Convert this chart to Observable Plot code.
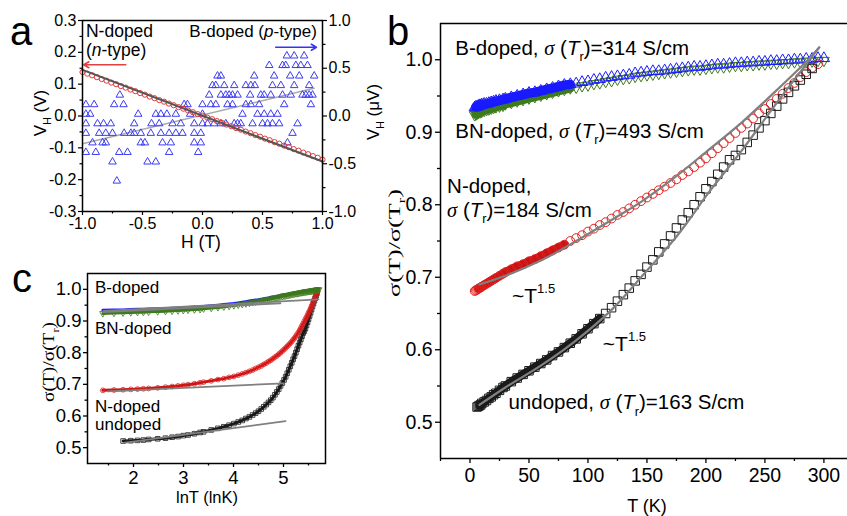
<!DOCTYPE html>
<html><head><meta charset="utf-8">
<script src="https://cdn.jsdelivr.net/npm/d3@7"></script>
<script src="https://cdn.jsdelivr.net/npm/@observablehq/plot@0.6"></script>
<style>
body{margin:0;background:#fff;}
#fig{position:relative;width:847px;height:516px;overflow:hidden;background:#fff;}
#fig svg{position:absolute;}
</style></head><body><div id="fig"></div>
<script>
// ---------- Panel a data ----------
const UV_TO_V = 0.3; // right axis (μV) mapped onto left axis (V): 1 μV <-> 0.3 V
const aRedH = [-1.00,-0.96,-0.92,-0.88,-0.84,-0.80,-0.76,-0.72,-0.68,-0.64,-0.60,-0.56,-0.52,-0.48,-0.44,-0.40,-0.36,-0.32,-0.28,-0.24,-0.20,-0.16,-0.12,-0.08,-0.04,0.00,0.04,0.08,0.12,0.16,0.20,0.24,0.28,0.32,0.36,0.40,0.44,0.48,0.52,0.56,0.60,0.64,0.68,0.72,0.76,0.80,0.84,0.88,0.92,0.96,1.00];
const aRedV = [0.138,0.133,0.128,0.122,0.116,0.111,0.105,0.100,0.094,0.089,0.083,0.078,0.072,0.067,0.061,0.056,0.050,0.045,0.039,0.034,0.028,0.023,0.017,0.012,0.006,0.001,-0.005,-0.010,-0.016,-0.021,-0.027,-0.032,-0.038,-0.043,-0.049,-0.054,-0.060,-0.065,-0.071,-0.076,-0.082,-0.087,-0.093,-0.098,-0.104,-0.109,-0.115,-0.120,-0.126,-0.131,-0.137];
const aBlueLevelsUV = [0.63,0.53,0.42,0.32,0.22,0.12,0.02,-0.08,-0.18,-0.28,-0.38,-0.48,-0.68];
const aBlueHAtLevel = [
  [0.703,0.764,0.847],
  [0.556,0.667,0.694,0.778,0.819,0.875],
  [0.125,0.153,0.431,0.597,0.731,0.806,0.931],
  [0.083,0.111,0.181,0.264,0.361,0.403,0.436,0.583,0.653,0.764,0.889],
  [-0.689,0.056,0.153,0.194,0.222,0.250,0.292,0.397,0.486,0.514,0.569,0.667,0.736,0.833,0.861,0.889,0.917],
  [-0.972,-0.903,-0.736,-0.658,-0.153,-0.125,0.000,0.069,0.111,0.208,0.250,0.361,0.403,0.472,0.681,0.903],
  [-0.972,-0.936,-0.536,-0.389,-0.347,-0.297,-0.222,-0.103,0.000,0.333,0.458,0.514,0.569,0.625],
  [-0.972,-0.875,-0.825,-0.764,-0.569,-0.425,-0.361,-0.250,-0.181,-0.069,0.000,0.042,0.097,0.153,0.194,0.264,0.292,0.319,0.417,0.500,0.542,0.583,0.639,0.792],
  [-0.972,-0.861,-0.806,-0.750,-0.653,-0.597,-0.569,-0.514,-0.431,-0.347,-0.278,-0.222,-0.167,-0.069,-0.014,0.750],
  [-0.917,-0.833,-0.806,-0.514,-0.480,-0.333,-0.264,-0.069,-0.014,0.708],
  [-0.972,-0.889,-0.694,-0.625,-0.278,-0.036],
  [-0.750,-0.458,-0.389],
  [-0.714]
];
const aRedFitH = [-1, 1], aRedFitV = [0.145, -0.143];
const aBlueFitH = [-1, 0.93], aBlueFitUV = [-0.29, 0.29];
const aLeftTicks = [-0.3,-0.2,-0.1,0,0.1,0.2,0.3];
const aLeftMinor = [-0.25,-0.15,-0.05,0.05,0.15,0.25];
const aRightTicksUV = [-1,-0.5,0,0.5,1];
const aRightMinorUV = [-0.75,-0.25,0.25,0.75];
const aXTicks = [-1,-0.5,0,0.5,1];
const aXMinor = [-0.75,-0.25,0.25,0.75];

// ---------- Panels b and c data ----------
const T = [4,5,6,7,8,9,10,12,14,16,18,20,22,25,28,30,
  35,40,45,50,55,60,65,70,75,80,85,90,95,100,
  105,110,115,120,125,130,135,140,145,150,
  155,160,165,170,175,180,185,190,195,200,
  205,210,215,220,225,230,235,240,245,250,
  255,260,265,270,275,280,285,290,295,300];
const sigB = [0.934,0.935,0.935,0.936,0.937,0.937,0.938,0.939,0.939,0.940,0.941,0.942,0.943,0.944,0.945,0.946,
  0.948,0.950,0.952,0.954,0.955,0.957,0.959,0.961,0.963,0.965,0.966,0.967,0.969,0.970,
  0.972,0.973,0.975,0.976,0.977,0.978,0.979,0.981,0.982,0.983,
  0.984,0.984,0.985,0.986,0.987,0.988,0.989,0.990,0.990,0.991,
  0.992,0.993,0.993,0.994,0.995,0.995,0.996,0.996,0.997,0.997,
  0.998,0.998,0.999,0.999,1.000,1.000,1.001,1.001,1.002,1.002];
const sigBN = [0.924,0.925,0.926,0.927,0.928,0.928,0.929,0.930,0.931,0.932,0.933,0.934,0.935,0.936,0.937,0.939,
  0.941,0.943,0.945,0.947,0.949,0.951,0.953,0.955,0.957,0.959,0.961,0.962,0.964,0.965,
  0.967,0.968,0.970,0.971,0.973,0.974,0.975,0.977,0.978,0.979,
  0.980,0.981,0.982,0.983,0.984,0.985,0.986,0.987,0.987,0.988,
  0.989,0.990,0.990,0.991,0.992,0.992,0.993,0.993,0.994,0.994,
  0.995,0.995,0.996,0.996,0.997,0.997,0.998,0.998,0.999,0.999];
const sigN = [0.681,0.682,0.683,0.684,0.685,0.686,0.687,0.689,0.691,0.693,0.695,0.697,0.699,0.702,0.705,0.707,
  0.711,0.715,0.718,0.722,0.725,0.729,0.733,0.737,0.741,0.745,0.750,0.754,0.758,0.763,
  0.767,0.772,0.776,0.781,0.786,0.790,0.795,0.800,0.805,0.810,
  0.815,0.820,0.825,0.830,0.835,0.841,0.846,0.852,0.858,0.864,
  0.871,0.878,0.885,0.892,0.899,0.906,0.912,0.919,0.926,0.932,
  0.939,0.946,0.953,0.961,0.968,0.976,0.983,0.989,0.994,null];
const sigU = [null,null,0.521,0.522,0.523,0.524,0.526,0.528,0.530,0.533,0.535,0.538,0.540,0.544,0.548,0.550,
  0.556,0.561,0.566,0.571,0.576,0.581,0.586,0.592,0.597,0.603,0.609,0.615,0.622,0.629,
  0.636,0.643,0.650,0.658,0.667,0.676,0.685,0.695,0.704,0.714,
  0.724,0.735,0.746,0.757,0.768,0.779,0.789,0.800,0.811,0.822,
  0.832,0.842,0.852,0.862,0.868,0.876,0.886,0.896,0.906,0.916,
  0.926,0.936,0.946,0.955,0.964,0.972,0.980,0.988,null,null];
// ~T^1.5 fits (panel b)
const fitNT = [8,30,60,90,120,145,173,201,230,258,286,296];
const fitN  = [0.690,0.702,0.723,0.750,0.779,0.804,0.837,0.874,0.913,0.955,0.999,1.017];
const fitUT = [8,30,60,90,120,145,173,187,201,230,258,286,296];
const fitU  = [0.524,0.548,0.578,0.613,0.655,0.700,0.752,0.782,0.814,0.874,0.936,0.996,1.017];
// linear low-T fits (panel c), x = lnT
const cFitBx = [1.40,5.70], cFitBy = [0.932,0.968];
const cFitBNx = [1.40,4.94], cFitBNy = [0.928,0.956];
const cFitNx = [1.48,5.00], cFitNy = [0.678,0.703];
const cFitUx = [1.84,5.04], cFitUy = [0.516,0.584];
const bYTicks = [0.5,0.6,0.7,0.8,0.9,1.0], bYMinor = [0.55,0.65,0.75,0.85,0.95];
const bXTicks = [0,50,100,150,200,250,300], bXMinor = [-25,25,75,125,175,225,275];
const cXTicks = [2,3,4,5], cXMinor = [1.5,2.5,3.5,4.5,5.5];

// ---------- helpers ----------
const SANS = "'Liberation Sans', Arial, Helvetica, sans-serif";
const SERIF = "'Liberation Serif', 'Times New Roman', serif";
const f1 = v => (Math.abs(v) < 1e-9 ? 0 : v).toFixed(1);
const blank = () => "";
const rows = (xs, ys, fx = x => x) => xs.map((x, i) => ({x: fx(x), y: ys[i]})).filter(d => d.y != null);
const sq3 = Math.sqrt(3);
const triDown = {draw(ctx, size) {
  const y = Math.sqrt(size / (sq3 * 3));
  ctx.moveTo(0, 2 * y); ctx.lineTo(sq3 * y, -y); ctx.lineTo(-sq3 * y, -y); ctx.closePath();
}};
const fig = document.getElementById("fig");
function place(svg, left, top) { svg.style.left = left + "px"; svg.style.top = top + "px"; fig.appendChild(svg); }
function addText(plot, x, y, parts, o = {}) {
  const sx = o.px ? x : plot.scale("x").apply(x);
  const sy = o.px ? y : plot.scale("y").apply(y);
  const size = o.size || 16;
  const t = d3.select(plot).append("text")
    .attr("x", sx).attr("y", sy).attr("font-size", size)
    .attr("text-anchor", o.anchor || "start")
    .attr("font-family", o.family || SANS).attr("fill", "#000");
  if (o.rotate) t.attr("transform", `rotate(${o.rotate},${sx},${sy})`);
  if (o.textLength) t.attr("textLength", o.textLength).attr("lengthAdjust", "spacingAndGlyphs");
  let shift = 0;
  for (const p of parts) {
    const s = t.append("tspan").text(p.t);
    const target = p.sub ? size * 0.3 : p.sup ? -size * 0.45 : 0;
    if (target !== shift) { s.attr("dy", target - shift); shift = target; }
    if (p.sub || p.sup) s.attr("font-size", size * 0.62);
    if (p.i) s.attr("font-style", "italic");
    if (p.serif) s.attr("font-family", SERIF);
  }
  return t;
}
const baseStyle = {fontFamily: SANS, background: "transparent", overflow: "visible", color: "#000"};

// ---------- Panel a ----------
const aRed = rows(aRedH, aRedV);
const aBlue = aBlueLevelsUV.flatMap((lv, k) => aBlueHAtLevel[k].map(h => ({x: h, y: lv * UV_TO_V})));
const pa = Plot.plot({
  width: 400, height: 250, marginLeft: 82, marginRight: 78, marginTop: 20, marginBottom: 39,
  x: {domain: [-1, 1], label: null}, y: {domain: [-0.3, 0.3], label: null},
  style: baseStyle,
  marks: [
    Plot.axisY({ticks: aLeftTicks, tickFormat: f1, tickSize: 4, tickPadding: 2, fontSize: 16, label: null, strokeWidth: 1.2}),
    Plot.axisY({ticks: aLeftMinor, tickFormat: blank, tickSize: 2.5, label: null, strokeWidth: 1.2}),
    Plot.axisY({ticks: aRightTicksUV.map(v => v * UV_TO_V), anchor: "right", tickFormat: v => f1(v / UV_TO_V), tickSize: 4, tickPadding: 2, fontSize: 16, label: null, strokeWidth: 1.2}),
    Plot.axisY({ticks: aRightMinorUV.map(v => v * UV_TO_V), anchor: "right", tickFormat: blank, tickSize: 2.5, label: null, strokeWidth: 1.2}),
    Plot.axisX({ticks: aXTicks, tickFormat: f1, tickSize: 4, tickPadding: 2, fontSize: 16, label: null, strokeWidth: 1.2}),
    Plot.axisX({ticks: aXMinor, tickFormat: blank, tickSize: 2.5, label: null, strokeWidth: 1.2}),
    Plot.line(rows(aBlueFitH, aBlueFitUV.map(v => v * UV_TO_V)), {x: "x", y: "y", stroke: "#aaaaaa", strokeWidth: 1.5}),
    Plot.dot(aBlue, {x: "x", y: "y", symbol: "triangle", r: 2.8, stroke: "#3c3cf5", fill: "none", strokeWidth: 1}),
    Plot.dot(aRed, {x: "x", y: "y", r: 2.6, stroke: "#e23a3a", fill: "none", strokeWidth: 1}),
    Plot.line(rows(aRedFitH, aRedFitV), {x: "x", y: "y", stroke: "#555555", strokeWidth: 2}),
    Plot.arrow([{x1: -0.64, y1: 0.161, x2: -0.99, y2: 0.161}], {x1: "x1", y1: "y1", x2: "x2", y2: "y2", stroke: "#e04040", strokeWidth: 1.5, headLength: 6}),
    Plot.arrow([{x1: 0.61, y1: 0.216, x2: 0.95, y2: 0.216}], {x1: "x1", y1: "y1", x2: "x2", y2: "y2", stroke: "#3333ff", strokeWidth: 1.5, headLength: 6}),
    Plot.frame({stroke: "#000", strokeWidth: 1.5})
  ]
});
place(pa, 0, 0);
addText(pa, -0.967, 0.247, [{t: "N-doped"}], {size: 17.5});
addText(pa, -0.967, 0.187, [{t: "("}, {t: "n", i: true}, {t: "-type)"}], {size: 17.5});
addText(pa, 0.958, 0.247, [{t: "B-doped ("}, {t: "p", i: true}, {t: "-type)"}], {size: 17, anchor: "end"});
addText(pa, 46, 113, [{t: "V"}, {t: "H", sub: true}, {t: " (V)"}], {px: true, size: 17, anchor: "middle", rotate: -90});
addText(pa, 379, 112, [{t: "V"}, {t: "H", sub: true}, {t: " (μV)"}], {px: true, size: 17, anchor: "middle", rotate: -90});
addText(pa, 201, 248, [{t: "H (T)"}], {px: true, size: 17.5, anchor: "middle"});

// ---------- Panel b ----------
const dB = rows(T, sigB), dBN = rows(T, sigBN), dN = rows(T, sigN), dU = rows(T, sigU);
const cBlue = "#1a1aff", cGreen = "#3d7a1c", cRed = "#e0201e", cRedBand = "#c81414", cBlack = "#1a1a1a", cGray = "#808080";
const pb = Plot.plot({
  width: 467, height: 516, marginLeft: 60, marginRight: 0, marginTop: 23, marginBottom: 58,
  x: {domain: [-25, 320], label: null}, y: {domain: [0.45, 1.05], label: null},
  style: baseStyle,
  marks: [
    Plot.axisY({ticks: bYTicks, tickFormat: f1, tickSize: 5, tickPadding: 3, fontSize: 19.5, label: null, strokeWidth: 1.3}),
    Plot.axisY({ticks: bYMinor, tickFormat: blank, tickSize: 3, label: null, strokeWidth: 1.3}),
    Plot.axisX({ticks: bXTicks, tickFormat: d => String(d), tickSize: 5, tickPadding: 5, fontSize: 19.5, label: null, strokeWidth: 1.3}),
    Plot.axisX({ticks: bXMinor, tickFormat: blank, tickSize: 3, label: null, strokeWidth: 1.3}),
    Plot.line(dBN.filter(d => d.x >= 5 && d.x <= 85), {x: "x", y: "y", stroke: cGreen, strokeWidth: 9}),
    Plot.dot(dBN, {x: "x", y: "y", symbol: triDown, r: 4, stroke: cGreen, fill: "none", strokeWidth: 1}),
    Plot.line(dB.filter(d => d.x >= 5 && d.x <= 85), {x: "x", y: "y", stroke: cBlue, strokeWidth: 9.5}),
    Plot.dot(dB, {x: "x", y: "y", symbol: "triangle", r: 4.2, stroke: cBlue, fill: "none", strokeWidth: 1}),
    Plot.line(dN.filter(d => d.x >= 7 && d.x <= 80), {x: "x", y: "y", stroke: cRedBand, strokeWidth: 8.5}),
    Plot.dot(dN, {x: "x", y: "y", symbol: "circle", r: 4.4, stroke: cRed, fill: "none", strokeWidth: 1}),
    Plot.line(dU.filter(d => d.x >= 8 && d.x <= 110), {x: "x", y: "y", stroke: cBlack, strokeWidth: 8.5}),
    Plot.dot(dU, {x: "x", y: "y", symbol: "square", r: 4.8, stroke: cBlack, fill: "none", strokeWidth: 1}),
    Plot.line(rows(fitNT, fitN), {x: "x", y: "y", stroke: cGray, strokeWidth: 2.2, curve: "catmull-rom"}),
    Plot.line(rows(fitUT, fitU), {x: "x", y: "y", stroke: cGray, strokeWidth: 2.2, curve: "catmull-rom"}),
    Plot.ruleX([-25], {stroke: "#000", strokeWidth: 1.5}),
    Plot.ruleY([0.45, 1.05], {stroke: "#000", strokeWidth: 1.5})
  ]
});
place(pb, 380, 0);
const sig = (val) => [{t: "σ", i: true, serif: true}, {t: " ("}, {t: "T", i: true}, {t: "r", sub: true}, {t: ")=" + val + " S/cm"}];
addText(pb, -12, 1.006, [{t: "B-doped, "}, ...sig(314)], {size: 20.5});
addText(pb, -12, 0.892, [{t: "BN-doped, "}, ...sig(493)], {size: 20.5});
addText(pb, -19, 0.815, [{t: "N-doped,"}], {size: 20.5});
addText(pb, -19, 0.782, sig(184), {size: 20.5});
addText(pb, 36, 0.664, [{t: "~T"}, {t: "1.5", sup: true}], {size: 21});
addText(pb, 113, 0.598, [{t: "~T"}, {t: "1.5", sup: true}], {size: 21});
addText(pb, 33, 0.517, [{t: "undoped, "}, ...sig(163)], {size: 20.5});
addText(pb, 20, 243, [{t: "σ(T)/σ(T", serif: true}, {t: "r", sub: true, serif: true}, {t: ")", serif: true}], {px: true, size: 16, anchor: "middle", rotate: -90, family: SERIF, textLength: 108});
addText(pb, 267, 512, [{t: "T (K)"}], {px: true, size: 18, anchor: "middle"});

// ---------- Panel c ----------
const ln = Math.log;
const eB = rows(T, sigB, ln), eBN = rows(T, sigBN, ln), eN = rows(T, sigN, ln), eU = rows(T, sigU, ln);
const pc = Plot.plot({
  width: 380, height: 266, marginLeft: 87, marginRight: 55, marginTop: 23, marginBottom: 53,
  x: {domain: [1.08, 5.84], label: null}, y: {domain: [0.45, 1.05], label: null},
  style: baseStyle,
  marks: [
    Plot.axisY({ticks: bYTicks, tickFormat: f1, tickSize: 4, tickPadding: 2, fontSize: 18.5, label: null, strokeWidth: 1.3}),
    Plot.axisY({ticks: bYMinor, tickFormat: blank, tickSize: 2.5, label: null, strokeWidth: 1.3}),
    Plot.axisX({ticks: cXTicks, tickFormat: d => String(d), tickSize: 4, tickPadding: 3, fontSize: 18.5, label: null, strokeWidth: 1.3}),
    Plot.axisX({ticks: cXMinor, tickFormat: blank, tickSize: 2.5, label: null, strokeWidth: 1.3}),
    Plot.line(eU, {x: "x", y: "y", stroke: cBlack, strokeWidth: 3}),
    Plot.dot(eU, {x: "x", y: "y", symbol: "square", r: 2.6, stroke: cBlack, fill: "none", strokeWidth: 0.8}),
    Plot.line(eN, {x: "x", y: "y", stroke: cRedBand, strokeWidth: 3}),
    Plot.dot(eN, {x: "x", y: "y", symbol: "circle", r: 2.4, stroke: cRed, fill: "none", strokeWidth: 0.8}),
    Plot.line(eB, {x: "x", y: "y", stroke: cBlue, strokeWidth: 3}),
    Plot.line(eBN, {x: "x", y: "y", stroke: cGreen, strokeWidth: 3}),
    Plot.dot(eBN, {x: "x", y: "y", symbol: triDown, r: 2.4, stroke: cGreen, fill: "none", strokeWidth: 0.8}),
    Plot.line(rows(cFitBx, cFitBy), {x: "x", y: "y", stroke: cGray, strokeWidth: 1.8}),
    Plot.line(rows(cFitBNx, cFitBNy), {x: "x", y: "y", stroke: cGray, strokeWidth: 1.8}),
    Plot.line(rows(cFitNx, cFitNy), {x: "x", y: "y", stroke: cGray, strokeWidth: 1.8}),
    Plot.line(rows(cFitUx, cFitUy), {x: "x", y: "y", stroke: cGray, strokeWidth: 1.8}),
    Plot.frame({stroke: "#000", strokeWidth: 1.5})
  ]
});
place(pc, 0, 250);
addText(pc, 1.24, 0.987, [{t: "B-doped"}], {size: 17});
addText(pc, 1.24, 0.858, [{t: "BN-doped"}], {size: 17});
addText(pc, 1.24, 0.612, [{t: "N-doped"}], {size: 17});
addText(pc, 1.24, 0.555, [{t: "undoped"}], {size: 17});
addText(pc, 54, 112, [{t: "σ(T)/σ(T", serif: true}, {t: "r", sub: true, serif: true}, {t: ")", serif: true}], {px: true, size: 17, anchor: "middle", rotate: -90, family: SERIF, textLength: 80});
addText(pc, 207, 253, [{t: "lnT (lnK)"}], {px: true, size: 16.5, anchor: "middle"});

// ---------- panel letters ----------
const ov = d3.select(fig).append("svg").attr("width", 847).attr("height", 516).style("left", "0px").style("top", "0px").style("pointer-events", "none");
[["a", 10, 45], ["b", 387, 45], ["c", 12, 292]].forEach(([s, x, y]) =>
  ov.append("text").attr("x", x).attr("y", y).attr("font-size", 40).attr("font-family", SANS).attr("fill", "#000").text(s));
</script></body></html>
